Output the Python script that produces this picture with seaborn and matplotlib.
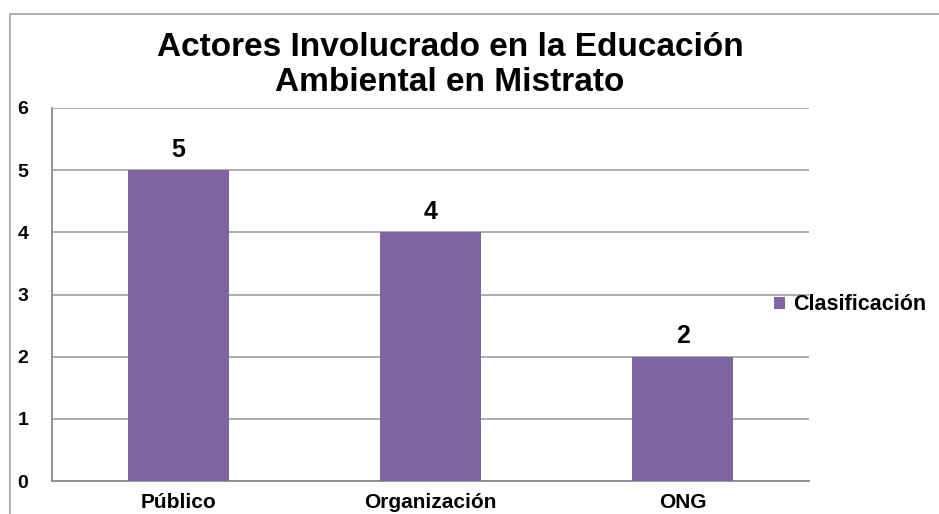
import numpy as np
import pandas as pd
import seaborn as sns
import matplotlib.pyplot as plt
from matplotlib.patches import Rectangle

categories = ["Público", "Organización", "ONG"]
values = [5, 4, 2]
series_name = "Clasificación"
title = "Actores Involucrado en la Educación\nAmbiental en Mistrato"

df = pd.DataFrame({"actor": categories, "cantidad": values})

sns.set_theme(style="white")
plt.rcParams["font.family"] = ["Liberation Sans", "DejaVu Sans"]
plt.rcParams["font.weight"] = "bold"
plt.rcParams["text.color"] = "black"
plt.rcParams["xtick.color"] = "black"
plt.rcParams["ytick.color"] = "black"

fig = plt.figure(figsize=(9.39, 5.14), dpi=100)
ax = fig.add_axes([52 / 939, 1 - 481 / 514, (809 - 52) / 939, (481 - 108) / 514])

purple = "#8064A2"
sns.barplot(data=df, x="actor", y="cantidad", color=purple, width=0.4,
            saturation=1, label=series_name, ax=ax, zorder=3)
for p in ax.patches:
    p.set_edgecolor("none")

ax.bar_label(ax.containers[0], labels=[str(v) for v in values],
             fontsize=18, fontweight="bold", padding=6, color="black")

ax.set_ylim(0, 6)
ax.set_xlim(-0.5, len(categories) - 0.5)
ax.set_yticks(range(0, 7))
ax.yaxis.grid(True, color="#a6a6a6", linewidth=1.3, zorder=0)
ax.set_axisbelow(True)

# category-boundary ticks on x axis
ax.set_xticks(np.arange(-0.5, len(categories), 1.0), minor=True)
ax.tick_params(axis="x", which="major", length=0, pad=9, labelsize=15, labelcolor="black")
ax.tick_params(axis="x", which="minor", length=6, width=1.3, color="#8c8c8c", direction="out")
ax.tick_params(axis="y", length=7, width=1.3, color="#8c8c8c", direction="out",
               labelsize=14, pad=10, labelcolor="black")
for lab in ax.get_xticklabels() + ax.get_yticklabels():
    lab.set_fontweight("bold")

ax.set_xlabel("")
ax.set_ylabel("")
for side in ["top", "right"]:
    ax.spines[side].set_visible(False)
for side in ["left", "bottom"]:
    ax.spines[side].set_color("#8c8c8c")
    ax.spines[side].set_linewidth(1.3)

leg = ax.get_legend()
if leg is not None:
    leg.remove()
handles, labels = ax.get_legend_handles_labels()
fig.legend(handles[:1], labels[:1], loc="center left",
           bbox_to_anchor=(755 / 939, 1 - 305 / 514), frameon=False,
           handlelength=0.5, handleheight=0.5, handletextpad=0.35,
           prop={"size": 15.5, "weight": "bold"}, labelcolor="black")

fig.text(450 / 939, 1 - 65 / 514, title, ha="center", va="center",
         fontsize=24, fontweight="bold", linespacing=1.15, color="black")

# chart area border
fig.patches.append(Rectangle((10 / 939, -0.2), 1.2, 1.2 - 14 / 514,
                             transform=fig.transFigure, fill=False,
                             edgecolor="#b0b0b0", linewidth=1.5))

fig.savefig("out.png", dpi=100)
